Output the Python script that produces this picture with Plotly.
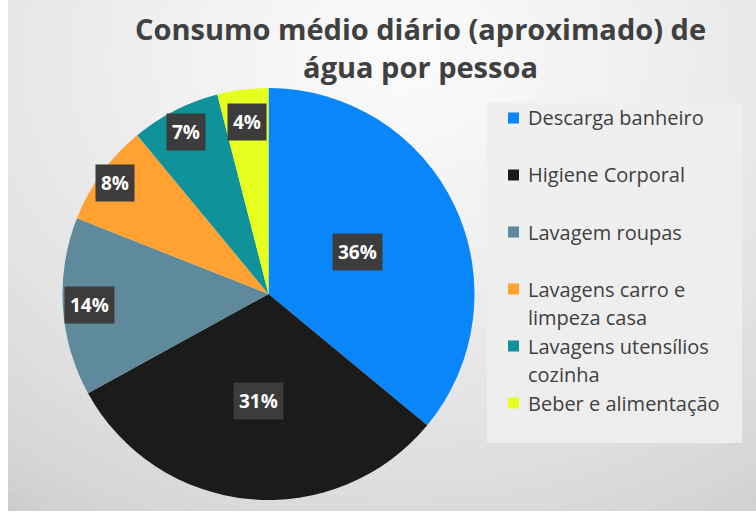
import math
import textwrap
import plotly.graph_objects as go

# ---- data ----
categories = [
    "Descarga banheiro",
    "Higiene Corporal",
    "Lavagem roupas",
    "Lavagens carro e limpeza casa",
    "Lavagens utensílios cozinha",
    "Beber e alimentação",
]
values = [36, 31, 14, 8, 7, 4]
title_lines = ["Consumo médio diário (aproximado) de", "água por pessoa"]

# ---- styles ----
colors = ["#0a86fb", "#1b1b1b", "#5f8a9b", "#ffa232", "#10929a", "#e6ff1e"]
label_radius = [0.48, 0.52, 0.87, 0.92, 0.88, 0.84]

W, H = 756, 516
CX, CY, R = 268.5, 294.0, 206.0


def px(x):
    return x / W


def py(y):
    return 1 - y / H


fig = go.Figure()
fig.add_trace(go.Pie(
    labels=categories,
    values=values,
    marker=dict(colors=colors, line=dict(width=0)),
    sort=False,
    direction="clockwise",
    rotation=0,
    textinfo="none",
    hole=0,
    domain=dict(x=[px(CX - R), px(CX + R)], y=[py(CY + R), py(CY - R)]),
    showlegend=False,
))

shapes = []
# base gray background
shapes.append(dict(type="rect", xref="paper", yref="paper", x0=0, x1=1, y0=0, y1=1,
                   fillcolor="#c8c8c8", line=dict(width=0), layer="below"))
# radial gradient approximation
n = 40
gx, gy = 400, 60
for i in range(n):
    t = i / (n - 1)
    rx = 700 - t * 660
    ry = 560 - t * 530
    c = int(round(202 + (t ** 0.65) * 48))
    shapes.append(dict(type="circle", xref="paper", yref="paper",
                       x0=px(gx - rx), x1=px(gx + rx), y0=py(gy + ry), y1=py(gy - ry),
                       fillcolor=f"rgb({c},{c},{c})", line=dict(width=0), layer="below"))
# white borders left & bottom
shapes.append(dict(type="rect", xref="paper", yref="paper", x0=0, x1=px(8), y0=0, y1=1,
                   fillcolor="white", line=dict(width=0), layer="below"))
shapes.append(dict(type="rect", xref="paper", yref="paper", x0=0, x1=1, y0=0, y1=1 - 511 / H,
                   fillcolor="white", line=dict(width=0), layer="below"))
# legend box
shapes.append(dict(type="rect", xref="paper", yref="paper", x0=px(487), x1=px(742),
                   y0=py(443), y1=py(103), fillcolor="rgba(238,238,238,0.9)",
                   line=dict(width=0), layer="below"))

annotations = []
# title (single text, two lines)
annotations.append(dict(text="<b>" + "<br>".join(title_lines) + "</b>", x=px(420), y=py(48),
                        xref="paper", yref="paper", showarrow=False,
                        xanchor="center", yanchor="middle", align="center",
                        font=dict(family="Open Sans", size=29, color="#404040")))

# legend entries
entry_top = 118
for i, cat in enumerate(categories):
    yc = entry_top + i * 57
    lines = textwrap.wrap(cat, 19)
    shapes.append(dict(type="rect", xref="paper", yref="paper",
                       x0=px(508), x1=px(519), y0=py(yc + 5.5), y1=py(yc - 5.5),
                       fillcolor=colors[i], line=dict(width=0)))
    for k, ln in enumerate(lines):
        annotations.append(dict(text=ln, x=px(526), y=py(yc + k * 28.5),
                                xref="paper", yref="paper", showarrow=False,
                                xanchor="left", yanchor="middle",
                                font=dict(family="Open Sans", size=20, color="#404040")))

# data labels
total = sum(values)
cum = 0
for i, v in enumerate(values):
    mid = (cum + v / 2) / total * 2 * math.pi
    cum += v
    rr = label_radius[i] * R
    lx = CX + rr * math.sin(mid)
    ly = CY - rr * math.cos(mid)
    annotations.append(dict(text=f"<b>{round(v / total * 100)}%</b>", x=px(lx), y=py(ly),
                            xref="paper", yref="paper", showarrow=False,
                            xanchor="center", yanchor="middle",
                            bgcolor="#3c3c3c", borderpad=5,
                            font=dict(family="Open Sans", size=19, color="white")))

fig.update_layout(
    width=W, height=H,
    margin=dict(l=0, r=0, t=0, b=0),
    paper_bgcolor="white",
    shapes=shapes,
    annotations=annotations,
    showlegend=False,
)

fig.write_html(
    "out.html",
    config={"displayModeBar": False},
    post_script="document.body.style.margin='0';document.body.style.overflow='hidden';",
)
